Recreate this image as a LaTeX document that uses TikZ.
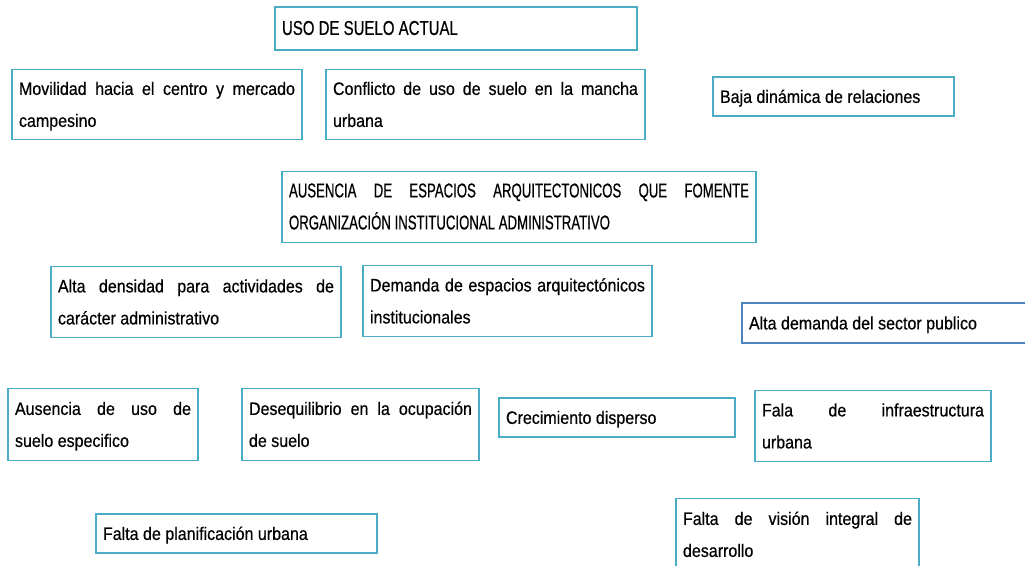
\documentclass[tikz,border=0pt]{standalone}
\usepackage{fontspec}
\setmainfont{Liberation Sans}[FakeStretch=0.89,FakeBold=0.5]
\newfontfamily\titlef{Liberation Sans}[FakeStretch=0.75,FakeBold=0.5]
\newfontfamily\capsf{Liberation Sans}[FakeStretch=0.66,FakeBold=0.5]
\newcommand\nohyph{\hyphenpenalty=10000\relax}
\definecolor{tealb}{HTML}{4BACC6}
\definecolor{blueb}{HTML}{4F81BD}
\tikzset{
  box/.style={draw=tealb, line width=1.8pt, fill=white, inner xsep=7pt, inner ysep=0pt,
    align=justify, font=\fontsize{18}{32}\selectfont\nohyph},
  bluebox/.style={box, draw=blueb, line width=1.5pt},
}
\begin{document}
\begin{tikzpicture}[x=1pt,y=-1pt]
\useasboundingbox (0,0) rectangle (1025,565);
\clip (0,0) rectangle (1025,565);
\node[box, minimum width=362, minimum height=43, text width=348, font=\fontsize{20}{32}\selectfont\titlef] (uso) at (456,28.5) {\strut USO DE SUELO ACTUAL\strut};
\node[box, minimum width=290, minimum height=70, text width=276] (mov) at (157,104.5) {\strut Movilidad hacia el centro y mercado\linebreak campesino\strut};
\node[box, minimum width=319, minimum height=70, text width=305] (con) at (485.5,104.5) {\strut Conflicto de uso de suelo en la mancha\linebreak urbana\strut};
\node[box, minimum width=241, minimum height=39, text width=227] (baja) at (833.5,96.5) {\strut Baja dinámica de relaciones\strut};
\node[box, minimum width=474, minimum height=71, text width=460, font=\fontsize{20}{32}\selectfont\capsf\nohyph] (aus) at (519,207) {\strut AUSENCIA DE ESPACIOS ARQUITECTONICOS QUE FOMENTE\linebreak ORGANIZACIÓN INSTITUCIONAL ADMINISTRATIVO\strut};
\node[box, minimum width=290, minimum height=71, text width=276] (alta) at (196,302) {\strut Alta densidad para actividades de\linebreak carácter administrativo\strut};
\node[box, minimum width=289, minimum height=71, text width=275] (dem) at (507.5,301) {\strut Demanda de espacios arquitectónicos\linebreak institucionales\strut};
\node[bluebox, minimum width=293, minimum height=40, text width=279] (altad) at (888.5,323) {\strut Alta demanda del sector publico\strut};
\node[box, minimum width=190, minimum height=72, text width=176] (ausu) at (103,424.5) {\strut Ausencia de uso de\linebreak suelo especifico\strut};
\node[box, minimum width=237, minimum height=72, text width=223] (des) at (360.5,424.5) {\strut Desequilibrio en la ocupación\linebreak de suelo\strut};
\node[box, minimum width=236, minimum height=39, text width=222] (cre) at (617,417.5) {\strut Crecimiento disperso\strut};
\node[box, minimum width=236, minimum height=71, text width=222] (fala) at (873,426) {\strut Fala de infraestructura\linebreak urbana\strut};
\node[box, minimum width=281, minimum height=39, text width=267] (fpl) at (236.5,533.5) {\strut Falta de planificación urbana\strut};
\node[box, minimum width=243, minimum height=72, text width=229] (fvi) at (797.5,534.5) {\strut Falta de visión integral de\linebreak desarrollo\strut};
\end{tikzpicture}
\end{document}
